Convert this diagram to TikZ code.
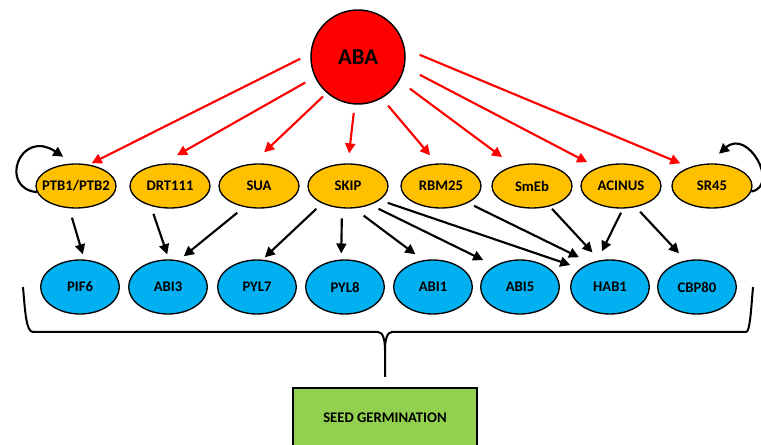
\documentclass[tikz,border=0pt]{standalone}
\usepackage{fontspec}
\setmainfont{Carlito}
\usetikzlibrary{arrows.meta,shapes.geometric}

\tikzset{every picture/.style={line width=0.75pt}}
\tikzset{
  hub/.style={circle,draw=black,fill={rgb, 255:red, 255; green, 0; blue, 0 },line width=1.1pt,minimum size=70.5pt,inner sep=0pt,font=\fontsize{17}{20}\selectfont\bfseries},
  factor/.style={ellipse,draw=black,fill={rgb, 255:red, 255; green, 192; blue, 0 },line width=1pt,minimum width=60pt,minimum height=33pt,inner xsep=-14pt,inner ysep=0pt,font=\fontsize{11}{13}\selectfont\bfseries},
  target/.style={ellipse,draw=black,fill={rgb, 255:red, 0; green, 176; blue, 240 },line width=1pt,minimum width=59pt,minimum height=40.5pt,inner xsep=-14pt,inner ysep=0pt,font=\fontsize{11}{13}\selectfont\bfseries},
  outcome/.style={rectangle,draw=black,fill={rgb, 255:red, 146; green, 208; blue, 80 },line width=1pt,minimum width=138pt,minimum height=45pt,inner sep=0pt,font=\fontsize{11}{13}\selectfont\bfseries},
  stim/.style={draw={rgb, 255:red, 255; green, 0; blue, 0 },line width=1.6pt,-{Triangle[length=7.5pt,width=7.5pt]}},
  act/.style={draw=black,line width=1.6pt,-{Triangle[length=7.5pt,width=7.5pt]}},
}

\begin{document}
\begin{tikzpicture}[x=0.75pt,y=0.75pt,yscale=-1,xscale=1]
\useasboundingbox (0,0) rectangle (761,445);

%Shape: Circle
\node[hub] (aba) at (358,57) {ABA};

%Shape: Ellipse (splicing factors)
\node[factor] (ptb) at (76,186) {PTB1/PTB2};
\node[factor] (drt) at (170,186) {DRT111};
\node[factor] (sua) at (259,186) {SUA};
\node[factor] (skp) at (348,186) {SKIP};
\node[factor] (rbm) at (441,186) {RBM25};
\node[factor] (smeb) at (532,186) {SmEb};
\node[factor] (acin) at (621,186) {ACINUS};
\node[factor] (sr45) at (712,186) {SR45};

%Shape: Ellipse (targets)
\node[target] (pif) at (80,287) {PIF6};
\node[target] (abi3) at (168,287) {ABI3};
\node[target] (pyl7) at (257,287) {PYL7};
\node[target] (pyl8) at (345,287) {PYL8};
\node[target] (abi1) at (433,287) {ABI1};
\node[target] (abi5) at (520,287) {ABI5};
\node[target] (hab1) at (610,287) {HAB1};
\node[target] (cbp) at (697,287) {CBP80};

%Shape: Rectangle
\node[outcome] (germ) at (385,418) {SEED GERMINATION};

%Straight Lines [red]
\draw[stim, shorten <=8.5pt, shorten >=2.3pt] (aba.176) -- (ptb.59);
\draw[stim, shorten <=8.2pt, shorten >=13pt] (aba.205) -- (drt.110);
\draw[stim, shorten <=3.9pt, shorten >=12.4pt] (aba.229) -- (sua.107);
\draw[stim, shorten <=6.2pt, shorten >=7.5pt] (aba.266) -- (skp.90);
\draw[stim, shorten <=7.2pt, shorten >=8pt] (aba.300) -- (rbm.100);
\draw[stim, shorten <=9.8pt, shorten >=10.9pt] (aba.330) -- (smeb.132);
\draw[stim, shorten <=12.8pt, shorten >=8.6pt] (aba.348) -- (acin.142);
\draw[stim, shorten <=11.9pt, shorten >=7.5pt] (aba.10) -- (sr45.140);

%Straight Lines [black]
\draw[act, shorten <=7.3pt, shorten >=4pt] (ptb.253) -- (pif.81);
\draw[act, shorten <=6.2pt, shorten >=4pt] (drt.226) -- (abi3.88);
\draw[act, shorten <=6.7pt, shorten >=4.9pt] (sua.235) -- (abi3.68);
\draw[act, shorten <=5.9pt, shorten >=2.5pt] (skp.214) -- (pyl7.79);
\draw[act, shorten <=7.5pt, shorten >=4.5pt] (skp.255) -- (pyl8.98);
\draw[act, shorten <=9pt, shorten >=7.4pt] (skp.285) -- (abi1.110);
\draw[act, shorten <=6.7pt, shorten >=9.5pt] (skp.320) -- (abi5.140);
\draw[act, shorten <=6.3pt, shorten >=8pt] (skp.336) -- (hab1.148);
\draw[act, shorten <=5pt, shorten >=9.6pt] (rbm.328) -- (hab1.129);
\draw[act, shorten <=2.5pt, shorten >=8pt] (smeb.311) -- (hab1.111);
\draw[act, shorten <=3.4pt, shorten >=8pt] (acin.275) -- (hab1.116);
\draw[act, shorten <=4.7pt, shorten >=7.4pt] (acin.305) -- (cbp.113);

%Curve Lines [self loops]
\draw[act, shorten >=9pt] (ptb.189) .. controls (-2,188) and (20,128) .. (ptb.97);
\draw[act, shorten >=11pt] (sr45.352) .. controls (780,186) and (748,128) .. (sr45.100);

%Brace
\draw[line width=1.5pt] (23,287) .. controls (25,310) and (26,332) .. (33,332) -- (378,332) .. controls (383,332) and (385,340) .. (385,350) -- (385,377);
\draw[line width=1.5pt] (753,287) .. controls (751,310) and (750,332) .. (746,332) -- (392,332) .. controls (387,332) and (385,340) .. (385,350);
\end{tikzpicture}
\end{document}
